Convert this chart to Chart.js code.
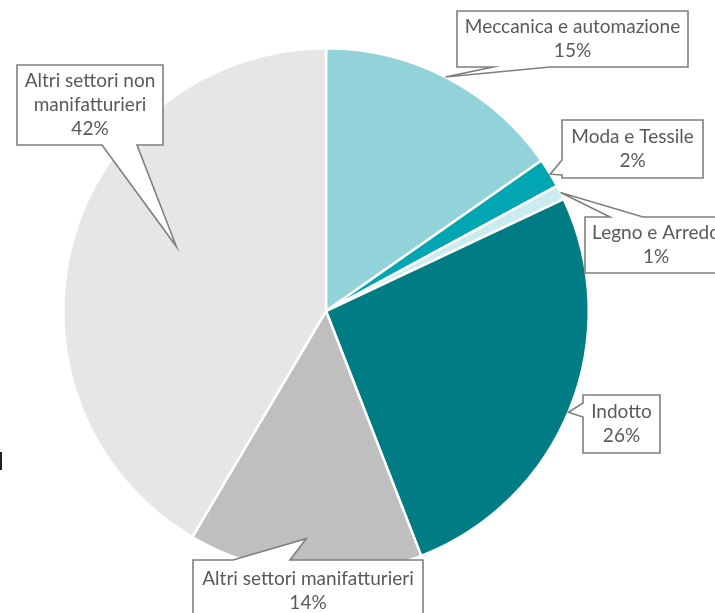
<!DOCTYPE html>
<html>
<head>
<meta charset="utf-8">
<script src="https://cdn.jsdelivr.net/npm/chart.js@4.4.0/dist/chart.umd.min.js"></script>
<style>
	html, body { margin: 0; padding: 0; background: #fff; overflow: hidden; }
	canvas { display: block; }
</style>
</head>
<body>
<canvas id="pie" width="715" height="613"></canvas>
<script>
// Sectors, clockwise from the top
const sectors = ['Meccanica e automazione', 'Moda e Tessile', 'Legno e Arredo', 'Indotto', 'Altri settori manifatturieri', 'Altri settori non manifatturieri'];
// How the names wrap inside the callouts
const sectorLines = [['Meccanica e automazione'], ['Moda e Tessile'], ['Legno e Arredo'], ['Indotto'], ['Altri settori manifatturieri'], ['Altri settori non', 'manifatturieri']];
// Share of each sector (%); the callouts show them rounded
const shares = [15.3, 1.8, 0.9, 26.1, 14.4, 41.5];
const sliceColors = ['#92D3DA', '#00A6B1', '#CBECEF', '#007C85', '#BFBFBF', '#E6E6E6'];

// Callout boxes: rectangle, edge the pointer leaves from, span of the pointer base on that edge,
// and where the tip sits on the slice (radius fraction, degrees off the mid angle)
const callouts = [
	{ x: 457, y: 11, w: 231, h: 56, edge: 'bottom', a: 493, b: 550, rf: 1.0, da: -0.5 },
	{ x: 562, y: 120, w: 141, h: 58, edge: 'left', a: 160, b: 175, rf: 1.0, da: 0.3 },
	{ x: 585, y: 217, w: 142, h: 56, edge: 'top', a: 610, b: 643, rf: 1.0, da: 0 },
	{ x: 583, y: 395, w: 77, h: 58, edge: 'left', a: 403, b: 417, rf: 1.0, da: 0.9 },
	{ x: 193, y: 560, w: 230, h: 62, edge: 'top', a: 233, b: 290, rf: 0.87, da: 0.3 },
	{ x: 17, y: 65, w: 146, h: 80, edge: 'bottom', a: 102, b: 137, rf: 0.62, da: 8 }
];

const textColor = '#595959';
const textFont = '19px Lato';
const lineStep = 24;

// Draws the callout shapes with their texts on top of the pie
const calloutPlugin = {
	id: 'callouts',
	afterDraw(chart) {
		const ctx = chart.ctx;
		const arcs = chart.getDatasetMeta(0).data;
		ctx.save();

		// small stray mark at the left border of the reference
		ctx.fillStyle = '#222';
		ctx.fillRect(0, 452, 2, 18);

		callouts.forEach((c, i) => {
			const arc = arcs[i];
			const p = arc.getProps(['x', 'y', 'startAngle', 'endAngle', 'outerRadius'], true);
			const ang = (p.startAngle + p.endAngle) / 2 + c.da * Math.PI / 180;
			const tx = p.x + Math.cos(ang) * p.outerRadius * c.rf;
			const ty = p.y + Math.sin(ang) * p.outerRadius * c.rf;
			const x0 = c.x, y0 = c.y, x1 = c.x + c.w, y1 = c.y + c.h;

			ctx.beginPath();
			ctx.moveTo(x0, y0);
			if (c.edge === 'top') {
				ctx.lineTo(c.a, y0);
				ctx.lineTo(tx, ty);
				ctx.lineTo(c.b, y0);
			}
			ctx.lineTo(x1, y0);
			ctx.lineTo(x1, y1);
			if (c.edge === 'bottom') {
				ctx.lineTo(c.b, y1);
				ctx.lineTo(tx, ty);
				ctx.lineTo(c.a, y1);
			}
			ctx.lineTo(x0, y1);
			if (c.edge === 'left') {
				ctx.lineTo(x0, c.b);
				ctx.lineTo(tx, ty);
				ctx.lineTo(x0, c.a);
			}
			ctx.closePath();
			ctx.fillStyle = '#fff';
			ctx.fill();
			ctx.lineWidth = 1.6;
			ctx.strokeStyle = '#7F7F7F';
			ctx.lineJoin = 'miter';
			ctx.stroke();

			// texts: name lines and the rounded share
			const lines = sectorLines[i].concat([Math.round(shares[i]) + '%']);
			ctx.fillStyle = textColor;
			ctx.font = textFont;
			ctx.textAlign = 'center';
			ctx.textBaseline = 'middle';
			const cx = x0 + c.w / 2;
			const top = y0 + c.h / 2 - (lines.length - 1) * lineStep / 2;
			lines.forEach((t, k) => ctx.fillText(t, cx, top + k * lineStep));
		});
		ctx.restore();
	}
};

new Chart(document.getElementById('pie'), {
	type: 'pie',
	data: {
		labels: sectors,
		datasets: [{
			data: shares,
			backgroundColor: sliceColors,
			borderColor: '#fff',
			borderWidth: 2.5
		}]
	},
	options: {
		responsive: false,
		animation: false,
		layout: {
			padding: { left: 62, right: 125, top: 46, bottom: 37 }
		},
		plugins: {
			legend: { display: false },
			tooltip: { enabled: false }
		}
	},
	plugins: [calloutPlugin]
});
</script>
</body>
</html>
